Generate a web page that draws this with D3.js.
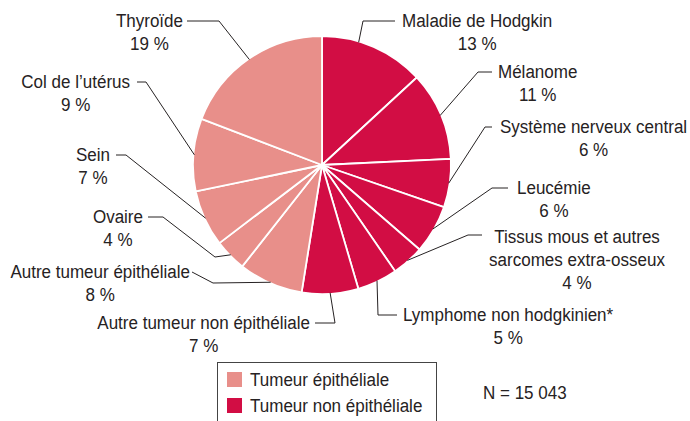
<!DOCTYPE html>
<html><head><meta charset="utf-8">
<script src="https://cdn.jsdelivr.net/npm/d3@7"></script>
<style>
html,body{margin:0;padding:0;background:#fff;}
svg text{font-family:"Liberation Sans",Arial,sans-serif;font-size:18.6px;fill:#262223;}
</style></head>
<body><svg id="c" width="690" height="421"></svg>
<script>
const categories = ["Maladie de Hodgkin","Mélanome","Système nerveux central","Leucémie","Tissus mous et autres|sarcomes extra-osseux","Lymphome non hodgkinien*","Autre tumeur non épithéliale","Autre tumeur épithéliale","Ovaire","Sein","Col de l’utérus","Thyroïde"];
const values = [13,11,6,6,4,5,7,8,4,7,9,19];
const groups = ["non","non","non","non","non","non","non","epi","epi","epi","epi","epi"];
const legendLabels = ["Tumeur épithéliale","Tumeur non épithéliale"];
const legendKeys = ["epi","non"];
const totalLabel = "N = 15 043";

// layout (positions only)
const cx = 322, cy = 165, R = 129;
const SX = 0.915; // condensed look
const labelLayout = [
  {elbows:[[363,21],[395,21]], x:402, y:21, side:"start", nudge:-7},
  {elbows:[[478,72],[492,72]], x:498, y:72, side:"start"},
  {elbows:[[485,127],[492,127]], x:500, y:127, side:"start"},
  {elbows:[[492,188],[508,188]], x:517, y:188, side:"start"},
  {elbows:[[468,235],[482,235]], x:577, y:237, side:"middle"},
  {elbows:[[378,315],[397,315]], x:403, y:315, side:"start"},
  {elbows:[[335,323],[315,323]], x:310, y:323, side:"end"},
  {elbows:[[213,283],[192,272]], x:190, y:272, side:"end"},
  {elbows:[[215,257],[163,217],[148,217]], x:143, y:217, side:"end"},
  {elbows:[[126,155],[116,155]], x:110, y:155, side:"end"},
  {elbows:[[146,82],[137,82]], x:130, y:82, side:"end"},
  {elbows:[[219,21],[187,21]], x:183, y:21, side:"end"}
];
const lineGap = 23;

const color = d3.scaleOrdinal().domain(["epi","non"]).range(["#e88f8a","#d20d44"]);
const svg = d3.select("#c");
function txt(x,y,anchor,s){
  return svg.append("text").attr("transform",`translate(${x},${y}) scale(${SX},1)`)
    .attr("text-anchor",anchor).attr("dominant-baseline","central").text(s);
}
const data = categories.map((c,i)=>({name:c,value:values[i],group:groups[i],lay:labelLayout[i]}));
const pie = d3.pie().sort(null).value(d=>d.value);
const arcs = pie(data);
const arc = d3.arc().innerRadius(0).outerRadius(R);
const g = svg.append("g").attr("transform",`translate(${cx},${cy})`);
g.selectAll("path").data(arcs).join("path")
  .attr("d",arc).attr("fill",d=>color(d.data.group))
  .attr("stroke","#fff").attr("stroke-width",1.8).attr("stroke-linejoin","round");

// leader lines + labels
const line = d3.line();
arcs.forEach(a=>{
  const lay = a.data.lay;
  const ang = (a.startAngle+a.endAngle)/2 + (lay.nudge||0)*Math.PI/180;
  const p0 = [cx + (R-1)*Math.sin(ang), cy - (R-1)*Math.cos(ang)];
  svg.append("path").attr("d",line([p0,...lay.elbows]))
    .attr("fill","none").attr("stroke","#262223").attr("stroke-width",1);
  const lines = a.data.name.split("|");
  const pct = a.data.value + " %";
  if(lay.side==="middle"){
    lines.concat([pct]).forEach((t,k)=> txt(lay.x, lay.y + k*lineGap, "middle", t));
  } else {
    const t = txt(lay.x, lay.y, lay.side, lines[0]);
    const w = t.node().getComputedTextLength()*SX;
    const mx = lay.side==="end" ? lay.x - w/2 : lay.x + w/2;
    txt(mx, lay.y+lineGap, "middle", pct);
  }
});

// legend
const lg = svg.append("g");
lg.append("rect").attr("x",217.5).attr("y",362.5).attr("width",219).attr("height",80)
  .attr("fill","none").attr("stroke","#444").attr("stroke-width",1);
legendKeys.forEach((k,i)=>{
  lg.append("rect").attr("x",227).attr("y",372+i*26).attr("width",15).attr("height",15).attr("fill",color(k));
  txt(250, 380+i*26, "start", legendLabels[i]);
});
txt(483, 393, "start", totalLabel);
</script></body></html>
